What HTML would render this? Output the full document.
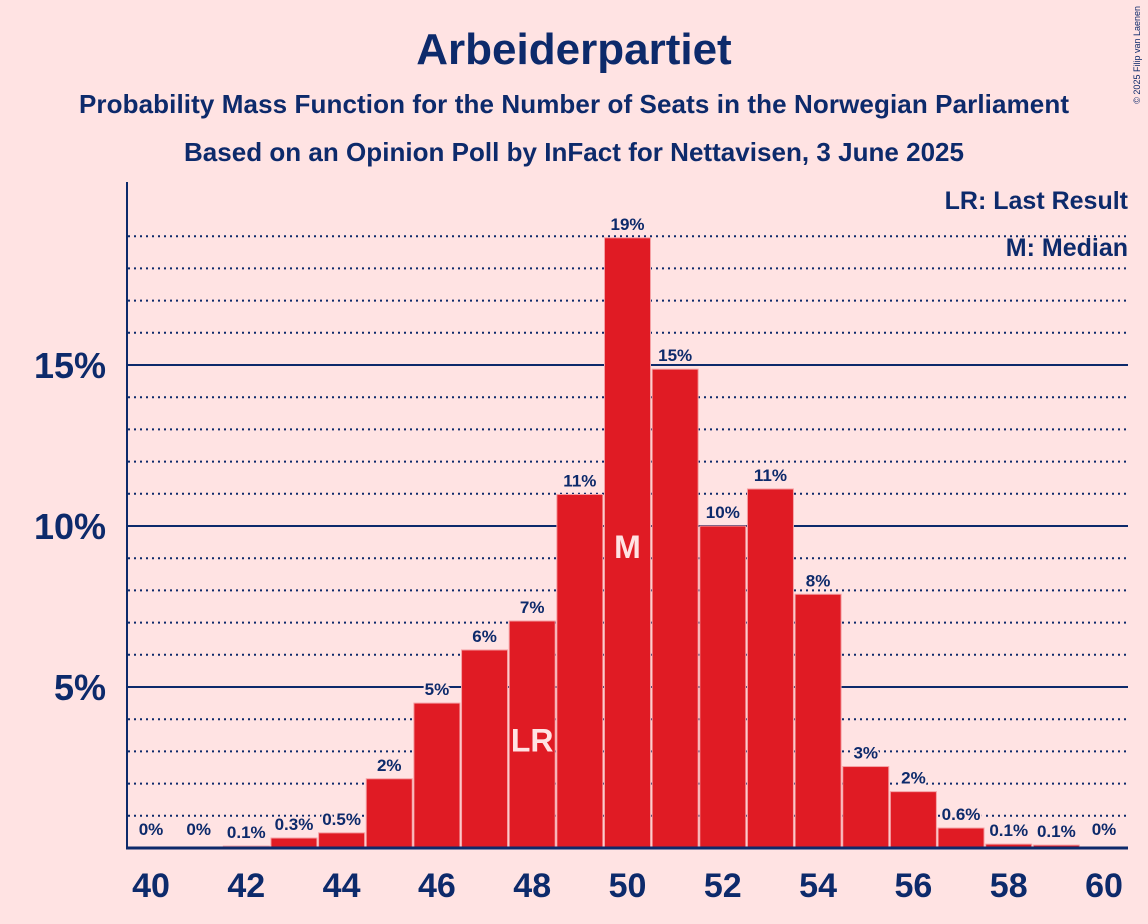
<!DOCTYPE html>
<html><head><meta charset="utf-8"><style>
body{margin:0;background:#ffe3e3;}
svg{display:block;font-family:"Liberation Sans",sans-serif;}
</style></head><body>
<svg id="c" width="1148" height="924">
<rect width="1148" height="924" fill="#ffe3e3"/>
<text x="574" y="64" text-anchor="middle" font-size="44" font-weight="bold" fill="#0d2a6b">Arbeiderpartiet</text>
<text x="574" y="113" text-anchor="middle" font-size="26" font-weight="bold" fill="#0d2a6b" textLength="990">Probability Mass Function for the Number of Seats in the Norwegian Parliament</text>
<text x="574" y="161" text-anchor="middle" font-size="26" font-weight="bold" fill="#0d2a6b" textLength="780">Based on an Opinion Poll by InFact for Nettavisen, 3 June 2025</text>
<text x="1140" y="6" transform="rotate(-90 1140 6)" text-anchor="end" font-size="9" fill="#0d2a6b">© 2025 Filip van Laenen</text>
<g id="grid"></g><g id="bars"></g><g id="labels"></g>
<line x1="127" y1="182" x2="127" y2="849" stroke="#0d2a6b" stroke-width="2"/>
<line x1="126" y1="848" x2="1128" y2="848" stroke="#0d2a6b" stroke-width="3"/>
<text x="1128" y="209" text-anchor="end" font-size="25" font-weight="bold" fill="#0d2a6b">LR: Last Result</text>
<text x="1128" y="256" text-anchor="end" font-size="25" font-weight="bold" fill="#0d2a6b">M: Median</text>
</svg>
<script>
const seats=[40,41,42,43,44,45,46,47,48,49,50,51,52,53,54,55,56,57,58,59,60];
const probs=[0,0,0.06,0.31,0.47,2.15,4.5,6.15,7.05,10.98,18.95,14.87,10.0,11.15,7.88,2.53,1.75,0.62,0.12,0.09,0];
const labels=["0%","0%","0.1%","0.3%","0.5%","2%","5%","6%","7%","11%","19%","15%","10%","11%","8%","3%","2%","0.6%","0.1%","0.1%","0%"];
const yTicks=[5,10,15];
const lastResult=48, median=50;
const NS="http://www.w3.org/2000/svg";
const x=s=>151+(s-40)*47.65;
const y=v=>848-v*32.2;
function mk(t,a,p){const e=document.createElementNS(NS,t);for(const k in a)e.setAttribute(k,a[k]);p.appendChild(e);return e;}
const grid=document.getElementById('grid'),bars=document.getElementById('bars'),lab=document.getElementById('labels');
for(let v=1;v<=19;v++){
 if(yTicks.includes(v))continue;
 const l=mk('line',{x1:128,x2:1128,y1:y(v),y2:y(v),stroke:'#0d2a6b','stroke-width':2,'stroke-dasharray':'2 4'},grid);
 
 
}
yTicks.forEach(v=>{
 const l=mk('line',{x1:128,x2:1128,y1:y(v),y2:y(v),stroke:'#0d2a6b','stroke-width':2},grid);
 
 
 const t=mk('text',{x:106,y:y(v)+13,'text-anchor':'end','font-size':36,'font-weight':'bold',fill:'#0d2a6b'},grid);
 t.textContent=v+'%';
 
 
});
seats.forEach((s,i)=>{
 const v=probs[i];
 if(v>0){
  const r=mk('rect',{x:x(s)-23,y:y(v),width:46,height:848-y(v),fill:'#e01b24',stroke:'#f5a0a4','stroke-width':1},bars);
  
  
 }
 const ly=v>0?y(v)-8:835;
 const t=mk('text',{x:x(s),y:ly,'text-anchor':'middle','font-size':17,'font-weight':'bold',fill:'#0d2a6b',stroke:'#ffe3e3','stroke-width':4,'paint-order':'stroke'},lab);
 t.textContent=labels[i];
 
 
 if(s%2===0){
  const xt=mk('text',{x:x(s),y:897,'text-anchor':'middle','font-size':34,'font-weight':'bold',fill:'#0d2a6b'},lab);
  xt.textContent=s;
  
  
 }
 if(s===lastResult||s===median){
  const m=mk('text',{x:x(s),y:s===median?y(9.0):y(3.0),'text-anchor':'middle','font-size':32,'font-weight':'bold',fill:'#ffe3e3'},lab);
  m.textContent=s===median?'M':'LR';
  
  
 }
});
</script>
</body></html>
